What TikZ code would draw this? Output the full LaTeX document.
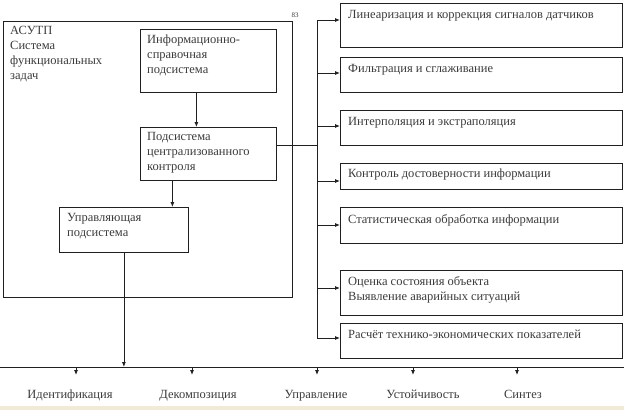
\documentclass[tikz,border=0pt]{standalone}
\usepackage{fontspec}
\setmainfont{Liberation Serif}
\usetikzlibrary{arrows.meta}
\definecolor{linec}{HTML}{202020}
\definecolor{textc}{HTML}{3C3C3C}
\definecolor{beige}{HTML}{F1EAD7}
\begin{document}
\begin{tikzpicture}[x=1pt,y=-1pt,
  box/.style={draw=linec, line width=0.8pt, rectangle, inner sep=0pt, anchor=north west},
  lab/.style={font=\fontsize{12.5}{15}\selectfont, text=textc, align=left, inner sep=0pt},
  arr/.style={draw=linec, line width=0.8pt, -{Latex[length=5pt,width=4pt]}},
  ln/.style={draw=linec, line width=0.8pt},
  blab/.style={font=\fontsize{12.5}{15}\selectfont, text=textc, inner sep=0pt, anchor=base}
]
\useasboundingbox (0,0) rectangle (624,410);
\fill[beige] (0,406) rectangle (624,410);

% left system box
\node[box, minimum width=289pt, minimum height=276pt,
  label={[lab, anchor=north west, xshift=7pt, yshift=-5pt]north west:АСУТП\\Система\\функциональных\\задач}] (sys) at (3,21) {};
\node[font=\fontsize{7}{8}\selectfont, text=textc, inner sep=0pt] (pg) at (295,15) {83};

\node[box, minimum width=136pt, minimum height=63pt,
  label={[lab, anchor=north west, xshift=7pt, yshift=-6pt]north west:Информационно-\\справочная\\подсистема}] (info) at (140,29) {};
\node[box, minimum width=136pt, minimum height=53pt,
  label={[lab, anchor=north west, xshift=7pt, yshift=-5pt]north west:Подсистема\\централизованного\\контроля}] (cent) at (140,127) {};
\node[box, minimum width=129pt, minimum height=45pt,
  label={[lab, anchor=north west, xshift=8pt, yshift=-6pt]north west:Управляющая\\подсистема}] (upr) at (59,207) {};

% right boxes
\tikzset{rlab/.style={lab, anchor=north west, xshift=8pt, yshift=-7pt}}
\node[box, minimum width=282pt, minimum height=44pt, label={[rlab]north west:Линеаризация и коррекция сигналов датчиков}] (r1) at (340,3) {};
\node[box, minimum width=282pt, minimum height=35pt, label={[rlab]north west:Фильтрация и сглаживание}] (r2) at (340,57) {};
\node[box, minimum width=282pt, minimum height=35pt, label={[rlab]north west:Интерполяция и экстраполяция}] (r3) at (340,110) {};
\node[box, minimum width=282pt, minimum height=26pt, label={[rlab, yshift=1pt]north west:Контроль достоверности информации}] (r4) at (340,163) {};
\node[box, minimum width=282pt, minimum height=36pt, label={[rlab]north west:Статистическая обработка информации}] (r5) at (340,207) {};
\node[box, minimum width=282pt, minimum height=45pt, label={[rlab, yshift=1pt]north west:Оценка состояния объекта\\Выявление аварийных ситуаций}] (r6) at (340,270) {};
\node[box, minimum width=282pt, minimum height=35pt, label={[rlab]north west:Расчёт технико-экономических показателей}] (r7) at (340,323) {};

% bus
\coordinate (b1) at (317,20);
\coordinate (b2) at (317,73);
\coordinate (b3) at (317,126);
\coordinate (bc) at (317,145);
\coordinate (b4) at (317,181);
\coordinate (b5) at (317,225);
\coordinate (b6) at (317,288);
\coordinate (b7) at (317,338);
\draw[ln] (b1) -- (b7);
\draw[ln] (bc -| cent.east) -- (bc);
\foreach \i in {1,...,7} {\draw[arr] (b\i) -- (b\i -| r\i.west);}

% internal arrows
\draw[arr] ([xshift=-12pt]info.south) -- ([xshift=-12pt]cent.north);
\draw[arr] ([xshift=-36pt]cent.south) -- ([xshift=-36pt]cent.south |- upr.north);

% bottom line
\coordinate (bl) at (0,367);
\coordinate (br) at (624,367);
\draw[ln] (bl) -- (br);
\draw[arr] (upr.south) -- (upr.south |- bl);

\node[blab] (t1) at (70,398) {Идентификация};
\node[blab] (t2) at (198,398) {Декомпозиция};
\node[blab] (t3) at (316,398) {Управление};
\node[blab] (t4) at (423,398) {Устойчивость};
\node[blab] (t5) at (523,398) {Синтез};
\foreach \x/\n in {76/1,192/2,317/3,413/4,517/5} {
  \coordinate (a\n) at (\x,367);
  \coordinate (e\n) at (\x,375);
  \draw[arr] (a\n) -- (e\n);
}
\end{tikzpicture}
\end{document}
